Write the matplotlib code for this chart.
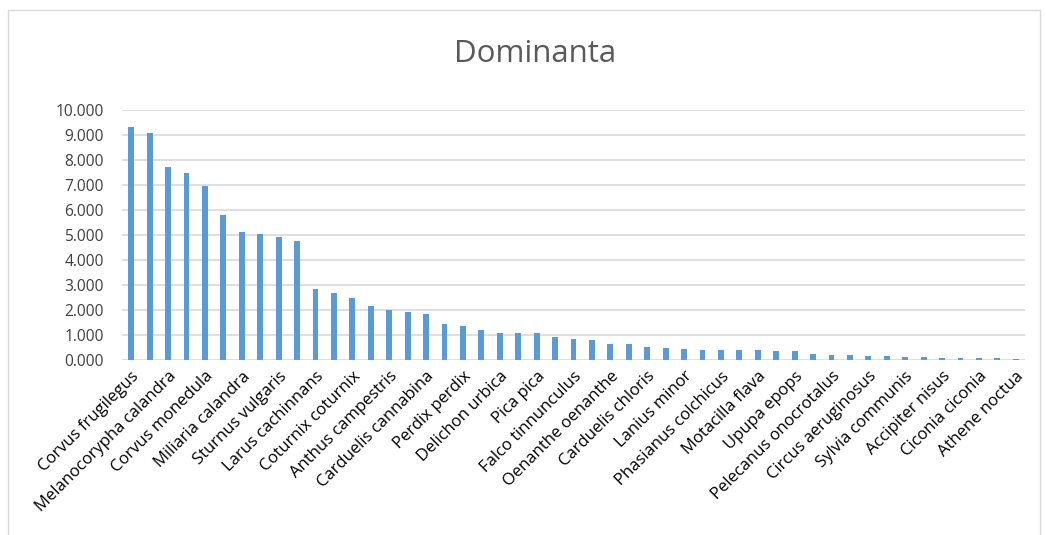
import matplotlib
matplotlib.use("Agg")
import matplotlib.pyplot as plt
from matplotlib.patches import Rectangle
import numpy as np

# Every other bar is labelled in the reference; these are the visible labels
labels = ["Corvus frugilegus", "Melanocorypha calandra", "Corvus monedula",
          "Miliaria calandra", "Sturnus vulgaris", "Larus cachinnans",
          "Coturnix coturnix", "Anthus campestris", "Carduelis cannabina",
          "Perdix perdix", "Delichon urbica", "Pica pica", "Falco tinnunculus",
          "Oenanthe oenanthe", "Carduelis chloris", "Lanius minor",
          "Phasianus colchicus", "Motacilla flava", "Upupa epops",
          "Pelecanus onocrotalus", "Circus aeruginosus", "Sylvia communis",
          "Accipiter nisus", "Ciconia ciconia", "Athene noctua"]

values = [9.31, 9.08, 7.74, 7.50, 6.97, 5.81, 5.11, 5.03, 4.92, 4.75,
          2.83, 2.67, 2.49, 2.18, 1.99, 1.93, 1.85, 1.43, 1.37, 1.20,
          1.10, 1.08, 1.10, 0.94, 0.86, 0.82, 0.66, 0.63, 0.54, 0.50,
          0.43, 0.42, 0.42, 0.41, 0.42, 0.36, 0.36, 0.26, 0.22, 0.22,
          0.18, 0.16, 0.14, 0.13, 0.09, 0.09, 0.07, 0.07, 0.05]

yticks = np.arange(0, 11, 1)

plt.rcParams['font.family'] = ['Open Sans', 'DejaVu Sans']

W, H = 1046, 535
fig = plt.figure(figsize=(W / 100, H / 100), dpi=100)
ax = fig.add_axes([122 / W, 1 - 360 / H, (1025 - 122) / W, (360 - 110) / H])

x = np.arange(len(values))
ax.bar(x, values, width=0.32, color="#5b9bd5", zorder=3)

ax.set_xlim(-0.5, len(values) - 0.5)
ax.set_ylim(0, 10)
ax.set_yticks(yticks)
ax.set_yticklabels([f"{v:.3f}" for v in yticks], fontsize=11.2, color="#404040")
ax.tick_params(axis="y", length=0, pad=13)
ax.grid(axis="y", color="#d9d9d9", linewidth=1.2, zorder=0)
ax.set_axisbelow(True)
for s in ax.spines.values():
    s.set_visible(False)

ax.set_xticks(x[::2])
ax.set_xticklabels(labels, rotation=45, ha="right", rotation_mode="anchor",
                   fontsize=12, color="#000000")
ax.tick_params(axis="x", length=0, pad=6)

fig.text(535 / W, 1 - 54 / H, "Dominanta", ha="center", va="center",
         fontsize=22.5, color="#595959")

fig.patches.append(Rectangle((8 / W, -0.05), (1040 - 8) / W, 1 - 10 / H + 0.05,
                             transform=fig.transFigure, fill=False,
                             edgecolor="#d9d9d9", linewidth=1))

fig.savefig("out.png", dpi=100)
